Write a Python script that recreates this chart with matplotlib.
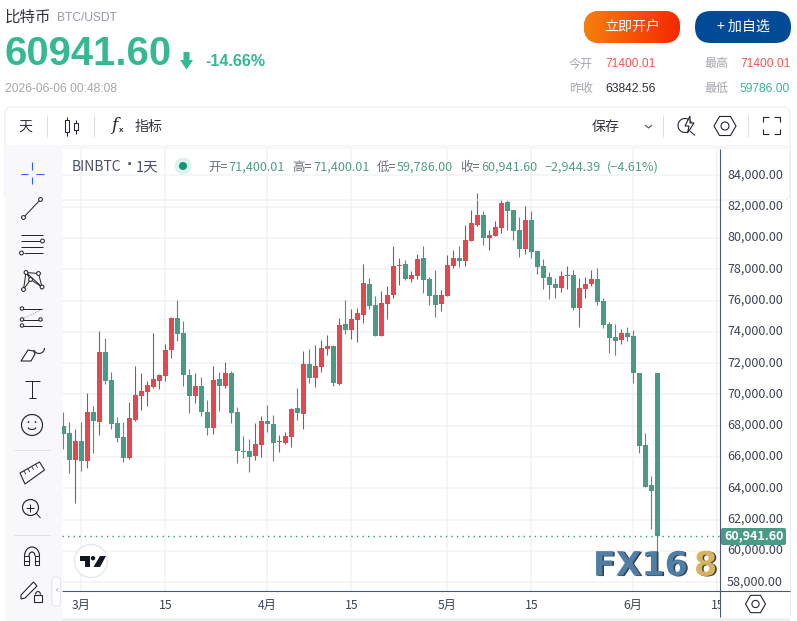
import numpy as np
import pandas as pd
import matplotlib
matplotlib.use("Agg")
import matplotlib.pyplot as plt
import matplotlib.dates as mdates
import matplotlib.patheffects as pe
from matplotlib.colors import LinearSegmentedColormap
from matplotlib.patches import Circle, FancyBboxPatch, Polygon, Rectangle, Arc
from matplotlib.transforms import Bbox, ScaledTranslation

CJK = ["Noto Sans CJK SC", "DejaVu Sans"]
ARIAL = ["Liberation Sans", "Noto Sans CJK SC"]

opens = [67987, 67539, 65814, 67028, 65750, 68881, 68242, 72715, 70926, 68178,
         67284, 65942, 68370, 69904, 70159, 70479, 70862, 71182, 72843, 74888,
         73929, 71245, 69904, 70543, 68881, 67859, 70990, 70543, 71373, 68881,
         66389, 66389, 66070, 66772, 68306, 68114, 66964, 66900, 67284, 69137,
         68753, 71948, 71054, 71757, 72907, 73099, 70670, 74504, 74121, 74760,
         75079, 77060, 75718, 73738, 75782, 76357, 78211, 78338, 77380, 77572,
         78722, 77380, 76357, 75782, 76294, 78211, 78722, 78530, 79808, 80830,
         81469, 80000, 80128, 80639, 82300, 81789, 80511, 79297, 81150, 79169,
         78211, 77508, 77060, 76805, 77572, 77635, 75527, 76741, 77060, 77380,
         75974, 74504, 73674, 73482, 73929, 73738, 71400, 66772, 64216, 71400.01]
highs = [68881, 68242, 67795, 68242, 70095, 69265, 74057, 73610, 71437, 68562,
         68242, 69520, 71821, 71373, 70862, 73929, 71309, 73226, 74952, 76038,
         74696, 71629, 71373, 71118, 69648, 71821, 71437, 72076, 71501, 69201,
         67348, 67156, 68178, 68626, 69328, 68689, 67411, 67603, 69137, 70415,
         72779, 72907, 73162, 73482, 73802, 73162, 74888, 76038, 75463, 75527,
         78338, 77444, 76294, 76613, 76933, 79489, 78722, 78594, 77891, 78977,
         79489, 77508, 77955, 76677, 78913, 79233, 79489, 80830, 81789, 82875,
         81725, 80511, 81086, 82492, 82428, 81789, 81342, 82045, 81725, 79233,
         78658, 77827, 77444, 77891, 78211, 77955, 77444, 77508, 77955, 78083,
         76166, 74632, 74504, 74185, 74313, 74121, 71400, 67539, 64792, 71400.01]
lows = [66538, 65005, 63088, 65132, 65324, 66283, 67411, 70670, 67795, 66964,
        65686, 65878, 68330, 69009, 69265, 70415, 70351, 70862, 72332, 73418,
        70543, 68817, 69456, 68626, 67411, 67475, 68945, 70415, 68178, 65622,
        65942, 65047, 65814, 66006, 67603, 65750, 66325, 66836, 66645, 68370,
        67795, 70734, 70479, 71437, 72523, 70543, 70606, 73865, 73546, 73354,
        74568, 75463, 73738, 73738, 74824, 76166, 76996, 77316, 77188, 77380,
        76485, 75718, 74952, 75335, 76294, 78083, 78147, 78211, 79808, 80767,
        79552, 79233, 80128, 80319, 80511, 79872, 78786, 78977, 78722, 77699,
        76741, 76102, 76166, 76549, 76741, 75399, 74313, 76166, 76933, 75718,
        74249, 72651, 72523, 73226, 73418, 70734, 66261, 64089, 61405, 59786]
closes = [67475, 65814, 67028, 65750, 68881, 68306, 72715, 70862, 68114, 67220,
          65942, 68498, 69967, 70223, 70606, 70990, 71245, 72843, 74888, 73865,
          71245, 69904, 70543, 68881, 67859, 70926, 70543, 71373, 68817, 66389,
          66325, 66006, 66836, 68306, 68114, 66900, 67028, 67348, 69073, 68817,
          71948, 71054, 71821, 72971, 73099, 70734, 74440, 74121, 74824, 75207,
          77124, 75655, 73738, 75846, 76357, 78211, 78274, 77380, 77635, 78658,
          77316, 76294, 75718, 76357, 78274, 78722, 78530, 79872, 80958, 81469,
          80000, 80191, 80703, 82236, 81725, 80447, 79297, 81150, 79105, 78147,
          77444, 76996, 76805, 77572, 77635, 75527, 76805, 77060, 77380, 75910,
          74440, 73610, 73418, 73929, 73674, 71373, 66709, 64089, 63842.56, 60941.60]

first_day = "2026-02-26"
last_price = 60941.60
price_ticks = [58000, 60000, 62000, 64000, 66000, 68000, 70000,
               72000, 74000, 76000, 78000, 80000, 82000, 84000]
date_ticks = ["2026-03-01", "2026-03-15", "2026-04-01", "2026-04-15",
              "2026-05-01", "2026-05-15", "2026-06-01", "2026-06-15"]
date_labels = ["3月", "15", "4月", "15", "5月", "15", "6月", "15"]

W, H = 797, 621
GREEN = "#4a9a85"
RED = "#e3474f"
WICK_GREEN = "#5c8d72"
WICK_RED = "#a84c5c"
UP_TEXT = "#36b893"
INK = "#23262f"
GREY = "#a6a6ae"
AXIS_BLUE = "#4a5578"

fig = plt.figure(figsize=(W / 100, H / 100), dpi=100, facecolor="white")

# chart area in pixels: x 62-720, y 149-591
ax = fig.add_axes([62 / W, 1 - 591 / H, 658 / W, 442 / H], zorder=1)
days = mdates.date2num(pd.date_range(first_day, periods=len(closes), freq="D"))
ax.set_xlim(days[0] - 1.3 / 6, days[0] + 109.45)
ax.set_ylim(57443, 85687)

opens_a, highs_a, lows_a, closes_a = map(np.array, (opens, highs, lows, closes))
is_up = closes_a >= opens_a
body_low = np.minimum(opens_a, closes_a)
body_high = np.maximum(opens_a, closes_a)

ax.vlines(days[is_up], lows_a[is_up], highs_a[is_up], color=WICK_RED, lw=0.8, zorder=2)
ax.vlines(days[~is_up], lows_a[~is_up], highs_a[~is_up], color=WICK_GREEN, lw=0.8, zorder=2)
ax.bar(days[is_up], (body_high - body_low)[is_up], bottom=body_low[is_up], width=0.82,
       color=RED, linewidth=0, zorder=3)
ax.bar(days[~is_up], (body_high - body_low)[~is_up], bottom=body_low[~is_up], width=0.82,
       color=GREEN, linewidth=0, zorder=3)
ax.axhline(last_price, color="#2f9a7f", lw=1, ls=(0, (1, 3)), zorder=4)

ax.set_xticks(mdates.date2num(pd.to_datetime(date_ticks)))
ax.set_xticklabels(date_labels, family=CJK, fontsize=8.8, color="#3c4358")
ax.set_yticks(price_ticks)
ax.set_yticklabels([f"{p:,.2f}" for p in price_ticks], family=CJK, fontsize=9, color="#3c4358")
ax.yaxis.tick_right()
ax.tick_params(length=0)
ax.tick_params(axis="y", pad=5)
ax.tick_params(axis="x", pad=6)
ax.grid(True, color="#f1f2f4", lw=1.1)
ax.set_axisbelow(True)
for spine in ax.spines.values():
    spine.set_visible(False)
# the last "15" runs under the price axis
for label in ax.get_xticklabels():
    label.set_clip_box(Bbox.from_extents(0, 0, 720, H))
    label.set_clip_on(True)
# price labels sit a little above their gridlines
nudge = ScaledTranslation(0, 2 / 100, fig.dpi_scale_trans)
for label in ax.get_yticklabels():
    label.set_transform(label.get_transform() + nudge)

# everything around the chart, in pixel coordinates
ov = fig.add_axes([0, 0, 1, 1], zorder=2)
ov.patch.set_alpha(0)
ov.set_axis_off()


def text(x, y, s, px=12, color=INK, family=CJK, ha="left", **kw):
    return ov.text(x, y, s, fontsize=px * 0.72, color=color, family=family,
                   ha=ha, va="center", **kw)


def line(xs, ys, color=INK, lw=1.0, **kw):
    ov.plot(xs, ys, color=color, lw=lw * 0.72, solid_capstyle="butt", **kw)


def rbox(x0, y0, x1, y1, r, **kw):
    patch = FancyBboxPatch((x0, y0), x1 - x0, y1 - y0,
                           boxstyle=f"round,pad=0,rounding_size={r}", **kw)
    ov.add_patch(patch)
    return patch


def node(x, y, r=1.9):
    ov.add_patch(Circle((x, y), r, fc="white", ec=INK, lw=0.75, zorder=5))


# header
text(5, 17, "比特币", 15.5, "#33353d")
text(57, 18, "BTC/USDT", 12, "#9a9aa6", ARIAL)
text(5, 54, "60941.60", 40, UP_TEXT, ARIAL, fontweight="bold")
ov.add_patch(Polygon([(183.5, 52), (189.5, 52), (189.5, 60), (193, 60), (186.5, 69.5), (180, 60), (183.5, 60)],
                     fc=UP_TEXT, ec="none"))
text(205, 62, "-14.66%", 16, UP_TEXT, ARIAL, fontweight="bold")
text(5, 88.5, "2026-06-06 00:48:08", 12, GREY, ARIAL)

orange = rbox(584, 11, 680, 43, 16, fc="#f5500a", ec="none")
cmap = LinearSegmentedColormap.from_list("btn", ["#f5800f", "#f52800"])
grad = ov.imshow(np.linspace(0, 1, 96).reshape(1, -1), cmap=cmap, aspect="auto",
                 extent=(584, 680, 43, 11), zorder=2)
grad.set_clip_path(orange)
rbox(695, 11, 791, 43, 16, fc="#004a96", ec="none")
text(632, 27, "立即开户", 14, "white", ha="center", zorder=3)
text(743, 27, "+ 加自选", 14, "white", ha="center", zorder=3)

for x, y, name in [(569, 64, "今开"), (704, 64, "最高"), (569, 88.5, "昨收"), (704, 88.5, "最低")]:
    text(x, y, name, 12, GREY)
text(605, 64, "71400.01", 12, "#f4564d", ARIAL)
text(740, 64, "71400.01", 12, "#f4564d", ARIAL)
text(605, 88.5, "63842.56", 12, "#2b2d35", ARIAL)
text(740, 88.5, "59786.00", 12, "#35b99a", ARIAL)

# toolbar frame, side panel and bottom band
rbox(5, 107, 790, 200, 7, fc="none", ec="#eceef1", lw=0.9)
ov.add_patch(Rectangle((5, 145), 785.5, 4, fc="#f7f7f9", ec="none", zorder=2))
ov.add_patch(Rectangle((5, 145), 57, 476, fc="#f8f8fb", ec="none", zorder=2))
line([790, 790], [145, 618], "#eceef1", zorder=2)
ov.add_patch(Rectangle((62, 618), 728, 3, fc="#f0f0f3", ec="none", zorder=2))

text(18, 127, "天", 14, "#33353d")
for x in (47.5, 94.5, 663.5, 748.5):
    line([x, x], [115, 137], "#dcdee6")
# candle icon
for cx, y0, y1, top, bot in [(67, 120, 132, 117, 136), (76, 123, 130, 120, 134)]:
    line([cx, cx], [top, bot], INK)
    ov.add_patch(Rectangle((cx - 2.2, y0), 4.4, y1 - y0, fc="white", ec=INK, lw=0.75, zorder=3))
text(111, 125, "f", 17, INK, ["DejaVu Serif"], fontstyle="italic")
text(119, 131, "x", 8, INK, ARIAL, fontweight="bold")
text(135, 127, "指标", 14, "#33353d")
text(592, 127, "保存", 14, "#33353d")
line([645, 648.5, 652], [125, 128, 125], "#44464e")
# lightning magnifier, settings, fullscreen
ov.add_patch(Arc((685, 125.5), 14, 14, theta1=60, theta2=350, ec=INK, lw=0.8))
ov.add_patch(Polygon([(690, 116), (685, 126), (689, 126), (687.5, 133), (694, 123), (690, 123)], fc="white", ec=INK, lw=0.8, zorder=3))
line([690, 695], [131, 135.5], INK)
for hx, hy, hr in [(725, 126, 11), (755.5, 604, 10)]:
    ang = np.deg2rad(np.arange(0, 360, 60))
    ov.add_patch(Polygon(np.c_[hx + hr * np.cos(ang), hy + hr * np.sin(ang)], fc="white", ec=INK, lw=0.8, zorder=3))
    ov.add_patch(Circle((hx, hy), hr * 0.36, fc="white", ec=INK, lw=0.8, zorder=4))
for xs, ys in [([763, 763, 769], [122, 117, 117]), ([774, 780, 780], [117, 117, 122]),
               ([763, 763, 769], [129, 134, 134]), ([774, 780, 780], [134, 134, 129])]:
    line(xs, ys, INK, 1.1)

# drawing tools
for xs, ys in [([21, 28], [173.5, 173.5]), ([36, 44], [173.5, 173.5]), ([32, 32], [162, 170]), ([32, 32], [177, 184])]:
    line(xs, ys, "#2962ff", 1.1, zorder=4)
line([23.5, 40.5], [217.5, 199.5], INK, zorder=3)
node(23.5, 217.5)
node(40.5, 199.5)
for y, x0, x1 in [(235, 21, 43), (241, 21, 43), (247, 21, 43), (253, 24, 43)]:
    line([x0, x1], [y, y], INK, zorder=3)
node(42.5, 241)
node(21.5, 253)
pts = [(23.5, 289.5), (30.5, 279.5), (26, 272.5), (38.5, 273.5), (42, 287)]
line([p[0] for p in pts] + [26, 23.5], [p[1] for p in pts] + [272.5, 289.5], INK, zorder=3)
line([30.5, 42], [279.5, 287], INK, zorder=3)
for p in pts:
    node(*p)
for y, x0, x1 in [(308.5, 22, 42), (319.5, 22, 42), (325.5, 22, 42)]:
    line([x0, x1], [y, y], INK, zorder=3)
line([22, 41], [319, 310], "#777", 0.8, ls=":")
for p in [(22, 308.5), (22, 319.5), (22, 325.5), (40.5, 319.5)]:
    node(*p, r=1.7)
ov.add_patch(Polygon([(21, 361), (28, 350), (33.5, 351), (35, 354), (31, 361)], fc="white", ec=INK, lw=0.8, zorder=3))
ov.add_patch(Arc((39, 348), 11, 11, theta1=30, theta2=190, ec=INK, lw=0.8, angle=-30, zorder=3))
line([25, 40], [380.5, 380.5], INK, zorder=3)
line([32.5, 32.5], [380.5, 398], INK, zorder=3)
line([29, 36], [398, 398], INK, zorder=3)
ov.add_patch(Circle((32, 425), 10.5, fc="none", ec=INK, lw=0.85, zorder=3))
for sx in (28.5, 35.5):
    ov.add_patch(Circle((sx, 422), 0.9, fc=INK, ec="none", zorder=3))
ov.add_patch(Arc((32, 426), 9, 7, theta1=20, theta2=160, ec=INK, lw=0.8, zorder=3))
line([14, 50], [449.5, 449.5], "#dfe1ea", zorder=3)
ov.add_patch(Polygon([(20, 473), (39.5, 462), (44.5, 470), (25, 484)], fc="white", ec=INK, lw=0.8, zorder=3))
for t in (0.2, 0.4, 0.6, 0.8):
    bx, by = 20 + 19.5 * t, 473 - 11 * t
    line([bx, bx + 2], [by, by + 3.5], INK, 0.8, zorder=4)
ov.add_patch(Circle((30.5, 507.5), 8, fc="none", ec=INK, lw=0.85, zorder=3))
line([36, 40.5], [513, 518], INK, zorder=3)
line([26.5, 34.5], [507.5, 507.5], INK, zorder=3)
line([30.5, 30.5], [503.5, 511.5], INK, zorder=3)
line([14, 50], [534.5, 534.5], "#dfe1ea", zorder=3)
ov.add_patch(Arc((32, 556), 15, 18, theta1=180, theta2=360, ec=INK, lw=0.85, zorder=3))
ov.add_patch(Arc((32, 556), 6, 8, theta1=180, theta2=360, ec=INK, lw=0.85, zorder=3))
for x0 in (24.5, 35):
    ov.add_patch(Rectangle((x0, 556), 4.5, 9, fc="none", ec=INK, lw=0.75, zorder=3))
    line([x0, x0 + 4.5], [561, 561], INK, zorder=3)
ov.add_patch(Polygon([(21, 595), (33.5, 582), (37, 586), (25, 598), (21, 599)], fc="white", ec=INK, lw=0.8, zorder=3))
ov.add_patch(Rectangle((34, 595), 8, 6.5, fc="white", ec=INK, lw=0.8, zorder=3))
ov.add_patch(Arc((38, 594.5), 5, 6, theta1=180, theta2=360, ec=INK, lw=0.8, zorder=3))
rbox(52, 577, 60.5, 606, 4, fc="white", ec="#e4e6ee", lw=0.8, zorder=3)
text(56.5, 590, "‹", 11, "#a8aab2", ["DejaVu Sans"], ha="center", zorder=4)

# chart legend row
text(71.5, 167, "BINBTC", 14, "#4a5068")
text(126.5, 165, "·", 14, "#4a5068", ["DejaVu Sans"], fontweight="bold")
text(136, 167, "1天", 14.5, "#4a5068")
ov.add_patch(Circle((183, 166), 8.5, fc="#dff1ec", ec="none"))
ov.add_patch(Circle((183, 166), 4, fc="#0e9678", ec="none"))
LEG_LABEL = "#6a7080"
LEG_VALUE = "#4f9f85"
for x, s in [(208, "开="), (292.5, "高="), (376.5, "低="), (460.5, "收=")]:
    text(x, 167, s, 12.5, LEG_LABEL)
for x, s in [(228.5, "71,400.01"), (313, "71,400.01"), (397, "59,786.00"), (481.5, "60,941.60"),
             (545, "−2,944.39"), (606.5, "(−4.61%)")]:
    text(x, 167, s, 12.7, LEG_VALUE)

# axis lines and last price tag
line([62, 790], [590.7, 590.7], AXIS_BLUE, 1.1, zorder=3)
line([720.3, 720.3], [149, 617], AXIS_BLUE, 1.1, zorder=3)
rbox(721, 528, 786, 545, 2, fc=GREEN, ec="none", zorder=4)
text(754, 536, f"{last_price:,.2f}", 12.5, "white", ha="center", fontweight="bold", zorder=5)

# TradingView badge and FX168 watermark
ov.add_patch(Circle((91, 561), 16.5, fc="white", ec="#e3e5ee", lw=0.9, zorder=3))
ov.add_patch(Polygon([(80, 556), (90, 556), (90, 567), (85, 567), (85, 560.5), (80, 560.5)], fc="#131722", ec="none", zorder=4))
ov.add_patch(Circle((93, 558.2), 2.2, fc="#131722", ec="none", zorder=4))
ov.add_patch(Polygon([(100, 556), (106, 556), (100, 567), (93.5, 567)], fc="#131722", ec="none", zorder=4))
for s, x, color, shade in [("FX16", 593, "#4f7ea6", "#3a4048"), ("8", 694, "#d6b35e", "#4a4436")]:
    ov.text(x, 566, s, fontsize=24, color=color, family=["DejaVu Sans"], fontweight="bold", ha="left",
            va="center", zorder=5,
            path_effects=[pe.withSimplePatchShadow(offset=(1.2, -0.4), shadow_rgbFace=shade, alpha=1)])

ov.set_xlim(0, W)
ov.set_ylim(H, 0)

fig.savefig("out.png", dpi=100)
